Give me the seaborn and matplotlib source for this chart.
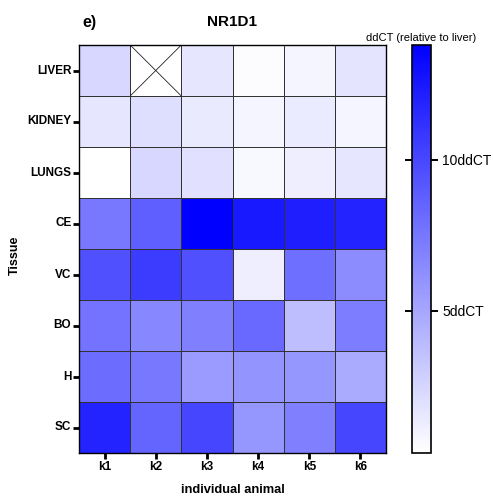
import numpy as np
import pandas as pd
import matplotlib
matplotlib.use("Agg")
import matplotlib.pyplot as plt
from matplotlib.colors import LinearSegmentedColormap
import seaborn as sns

sns.set_style("white")
plt.rcParams["font.family"] = ["Liberation Sans", "DejaVu Sans"]
plt.rcParams["text.color"] = "black"
plt.rcParams["axes.labelcolor"] = "black"
plt.rcParams["xtick.color"] = "black"
plt.rcParams["ytick.color"] = "black"

tissues = ["LIVER", "KIDNEY", "LUNGS", "CE", "VC", "BO", "H", "SC"]
animals = ["k1", "k2", "k3", "k4", "k5", "k6"]

# ddCT per tissue (rows) and animal (columns); NaN = no sample
liver = [2.42, np.nan, 1.62, 0.46, 0.83, 1.73]
kidney = [1.62, 2.05, 1.46, 0.83, 1.36, 0.83]
lungs = [0.30, 2.42, 1.89, 0.72, 1.20, 1.62]
ce = [7.45, 8.77, 13.80, 12.48, 12.21, 11.95]
vc = [9.56, 10.62, 9.56, 1.20, 7.98, 6.39]
bo = [7.71, 6.65, 7.02, 8.24, 3.74, 7.18]
h = [8.08, 7.45, 5.59, 5.96, 5.86, 4.80]
sc = [11.95, 8.51, 10.09, 5.86, 7.02, 10.09]

cbar_ticks = [5, 10]
cbar_ticklabels = ["5ddCT", "10ddCT"]

df = pd.DataFrame([liver, kidney, lungs, ce, vc, bo, h, sc],
                  index=tissues, columns=animals)

cmap = LinearSegmentedColormap.from_list("white_blue", ["#ffffff", "#0000ff"])

fig = plt.figure(figsize=(4.93, 4.96), dpi=100)
W, H = 493, 496
ax = fig.add_axes([79 / W, 1 - 453 / H, 307 / W, 408 / H])
cax = fig.add_axes([412 / W, 1 - 453 / H, 19 / W, 408 / H])

sns.heatmap(df, ax=ax, cmap=cmap, vmin=np.nanmin(df.values), vmax=np.nanmax(df.values),
            linewidths=0.5, linecolor="#333333", cbar_ax=cax, square=False)

# cross out missing cells
for i, row in enumerate(df.values):
    for j, v in enumerate(row):
        if np.isnan(v):
            ax.plot([j, j + 1], [i, i + 1], color="#222222", lw=0.6)
            ax.plot([j, j + 1], [i + 1, i], color="#222222", lw=0.6)

for s in ax.spines.values():
    s.set_visible(True)
    s.set_color("black")
    s.set_linewidth(1.0)

ax.tick_params(axis="both", which="major", length=4, width=2.0, color="black",
               left=True, bottom=True, pad=1.5)
ax.set_yticklabels(tissues, rotation=0, fontsize=8.5, fontweight="bold")
ax.set_xticklabels(animals, rotation=0, fontsize=8.5, fontweight="bold")
ax.set_ylabel("Tissue", fontsize=9, fontweight="bold")
ax.yaxis.set_label_coords(-0.19, 0.485)
ax.set_xlabel("individual animal", fontsize=9.3, fontweight="bold", labelpad=8)

ax.set_title("NR1D1", fontsize=11, fontweight="bold", pad=14)
fig.text(82 / W, 1 - 22 / H, "e)", fontsize=11.5, fontweight="bold", va="center", ha="left")

cbar = ax.collections[0].colorbar
cbar.set_ticks(cbar_ticks)
cbar.set_ticklabels(cbar_ticklabels)
cbar.outline.set_edgecolor("black")
cbar.outline.set_linewidth(1.2)
cax.tick_params(axis="y", left=True, right=True, direction="out", length=5, width=1.4,
                labelsize=10, pad=3, color="black")
cax.set_title("ddCT (relative to liver)", fontsize=8, pad=3)

fig.savefig("out.png", dpi=100)
